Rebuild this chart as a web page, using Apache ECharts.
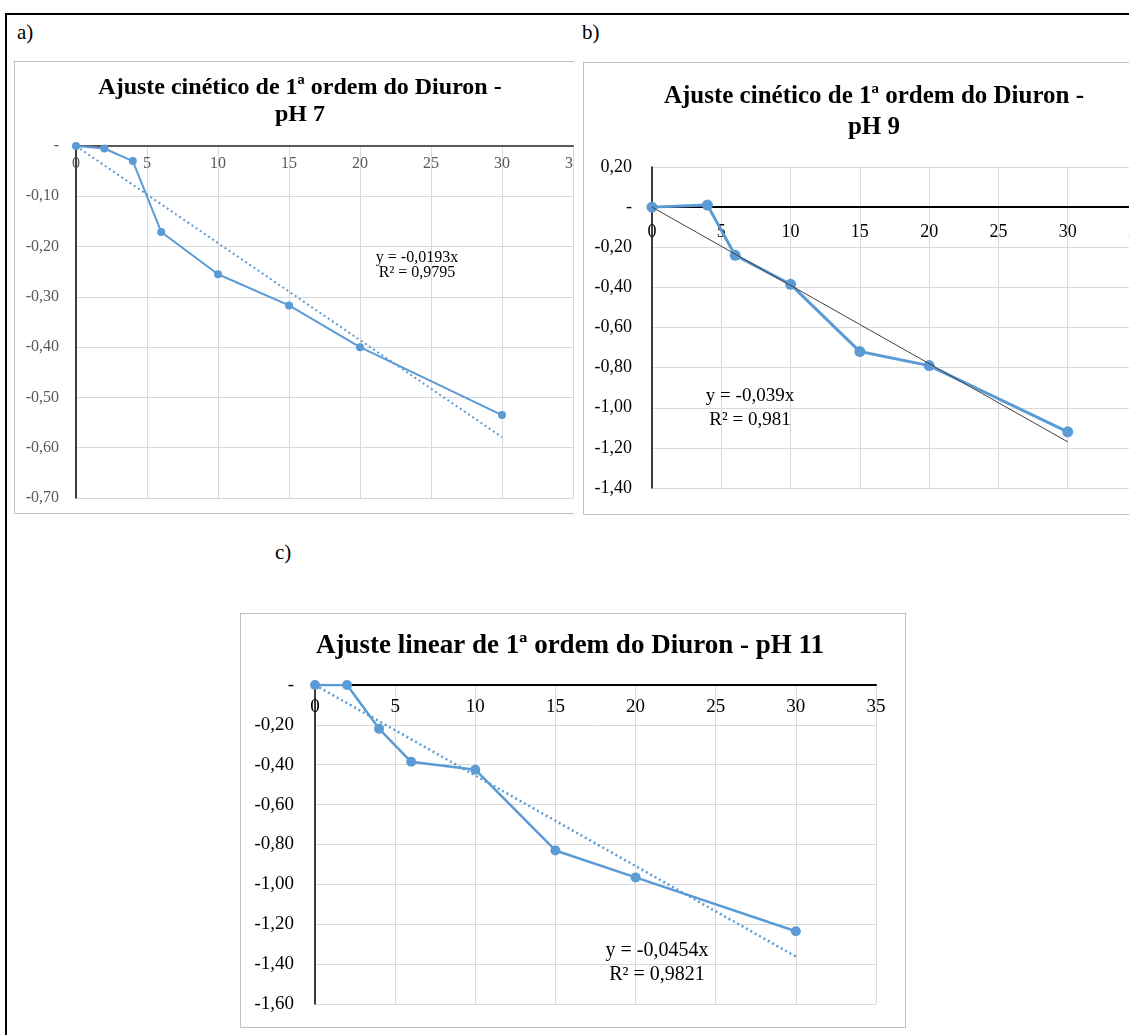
<!DOCTYPE html>
<html><head><meta charset="utf-8">
<script src="https://cdn.jsdelivr.net/npm/echarts@6/dist/echarts.min.js"></script>
<style>
html,body{margin:0;padding:0;width:1129px;height:1035px;overflow:hidden;background:#fff;font-family:"Liberation Serif",serif;}
#frame{position:absolute;left:5px;top:13px;width:1200px;height:1100px;border-left:2px solid #000;border-top:2px solid #000;}
.lbl{position:absolute;font-size:21px;color:#000;line-height:21px;}
.panel{position:absolute;border:1px solid #bfbfbf;overflow:hidden;background:#fff;box-sizing:border-box;}
.chart{position:absolute;left:0;top:0;}
</style></head>
<body>
<div id="frame"></div>
<div class="lbl" style="left:17px;top:22px;">a)</div>
<div class="lbl" style="left:582px;top:22px;">b)</div>
<div class="lbl" style="left:275px;top:542px;">c)</div>
<div class="panel" style="left:14px;top:61px;width:560px;height:453px;border-right:none;"><div id="ca" class="chart" style="width:590px;height:451px;"></div></div>
<div class="panel" style="left:583px;top:62px;width:600px;height:453px;border-right:none;"><div id="cb" class="chart" style="width:580px;height:451px;"></div></div>
<div class="panel" style="left:240px;top:613px;width:666px;height:415px;"><div id="cc" class="chart" style="width:664px;height:413px;"></div></div>
<script>
// ---------- data ----------
const timeA = [0, 2, 4, 6, 10, 15, 20, 30];
const lnA   = [0, -0.005, -0.03, -0.171, -0.255, -0.317, -0.40, -0.535];
const trendA = [[0, 0], [30, -0.579]];
const eqA = ["y = -0,0193x", "R² = 0,9795"];
const titleA = ["Ajuste cinético de 1ª ordem do Diuron -", "pH 7"];

const timeB = [0, 4, 6, 10, 15, 20, 30];
const lnB   = [0, 0.01, -0.24, -0.385, -0.72, -0.79, -1.12];
const trendB = [[0, 0], [30, -1.17]];
const eqB = ["y = -0,039x", "R² = 0,981"];
const titleB = ["Ajuste cinético de 1ª ordem do Diuron -", "pH 9"];

const timeC = [0, 2, 4, 6, 10, 15, 20, 30];
const lnC   = [0, 0, -0.22, -0.385, -0.425, -0.83, -0.965, -1.235];
const trendC = [[0, 0], [30, -1.362]];
const eqC = ["y = -0,0454x", "R² = 0,9821"];
const titleC = ["Ajuste linear de 1ª ordem do Diuron - pH 11"];

const xTicks = {min: 0, max: 35, interval: 5};

const blue = '#5B9BD5';
const FONT = 'Liberation Serif';

function yFmt(v){ return Math.abs(v) < 1e-9 ? '-' : v.toFixed(2).replace('.', ','); }

function build(el, cfg){
  const chart = echarts.init(document.getElementById(el), null, {renderer:'canvas'});
  const graphics = [];
  cfg.titles.forEach((t, i) => graphics.push({type:'text', x:cfg.titleX, y:cfg.titleY[i],
    style:{text:t, font:'bold '+cfg.titleSize+'px "'+FONT+'"', fill:'#000', align:'center', verticalAlign:'middle'}}));
  cfg.eq.forEach((t, i) => graphics.push({type:'text', x:cfg.eqX, y:cfg.eqY[i],
    style:{text:t, font:cfg.eqSize+'px "'+FONT+'"', fill:'#000', align:'center', verticalAlign:'middle'}, z:10}));
  const g = cfg.grid;
  chart.setOption({
    animation:false,
    grid:[
      {left:g[0], top:g[1], width:g[2], height:g[3], containLabel:false, outerBoundsMode:'none'},
      {left:g[0], top:g[1], width:g[2], height:1, containLabel:false, outerBoundsMode:'none'}
    ],
    xAxis:[
      {type:'value', gridIndex:0, min:xTicks.min, max:xTicks.max, interval:xTicks.interval,
       axisLine:{onZero:true, lineStyle:{color:cfg.xAxisColor, width:2}},
       axisTick:{show:false}, axisLabel:{show:false},
       splitLine:{show:true, lineStyle:{color:'#d9d9d9', width:1}}},
      {type:'value', gridIndex:1, position:'bottom', min:xTicks.min, max:xTicks.max, interval:xTicks.interval,
       axisLine:{show:false}, axisTick:{show:false}, splitLine:{show:false},
       axisLabel:{fontFamily:FONT, fontSize:cfg.labelSize, color:cfg.labelColor, margin:cfg.xMargin}}
    ],
    yAxis:[
      {type:'value', gridIndex:0, min:cfg.yMin, max:cfg.yMax, interval:cfg.yInt,
       axisLine:{show:true, onZero:false, lineStyle:{color:'#000', width:1.5}},
       axisTick:{show:false},
       axisLabel:{fontFamily:FONT, fontSize:cfg.labelSize, color:cfg.labelColor, margin:cfg.yMargin, formatter:yFmt},
       splitLine:{show:true, lineStyle:{color:'#d9d9d9', width:1}}},
      {type:'value', gridIndex:1, show:false, min:0, max:1}
    ],
    graphic:graphics,
    series:[
      {type:'line', xAxisIndex:0, yAxisIndex:0, data:cfg.x.map((v,i)=>[v, cfg.y[i]]), symbol:'circle', symbolSize:cfg.sym,
       itemStyle:{color:blue}, lineStyle:{color:blue, width:cfg.lw}, z:3},
      {type:'line', xAxisIndex:0, yAxisIndex:0, data:cfg.trend, symbol:'none',
       lineStyle:cfg.trendStyle, z:4}
    ]
  });
  // place the label axis so its bottom edge sits on the y = 0 line of the main grid
  const zeroPx = chart.convertToPixel({yAxisIndex:0}, 0);
  chart.setOption({grid:[{}, {top: zeroPx - 1, height: 1}]});
}

build('ca', {x:timeA, y:lnA, trend:trendA, eq:eqA, titles:titleA,
  titleX:285, titleY:[26,53], titleSize:24, eqX:402, eqY:[196,211], eqSize:16,
  grid:[61,84,497,352], yMin:-0.7, yMax:0, yInt:0.1, labelSize:16, labelColor:'#595959',
  xMargin:10, yMargin:17, xAxisColor:'#595959', sym:8, lw:2,
  trendStyle:{color:blue, width:2, type:[2,3]}});

build('cb', {x:timeB, y:lnB, trend:trendB, eq:eqB, titles:titleB,
  titleX:290, titleY:[34,65], titleSize:25, eqX:166, eqY:[333,357], eqSize:19,
  grid:[68,104,485,321], yMin:-1.4, yMax:0.2, yInt:0.2, labelSize:18, labelColor:'#000',
  xMargin:16, yMargin:20, xAxisColor:'#000', sym:11, lw:3,
  trendStyle:{color:'#404040', width:1, type:'solid'}});

build('cc', {x:timeC, y:lnC, trend:trendC, eq:eqC, titles:titleC,
  titleX:329, titleY:[32], titleSize:27, eqX:416, eqY:[337,361], eqSize:20,
  grid:[74,71,561,319], yMin:-1.6, yMax:0, yInt:0.2, labelSize:19, labelColor:'#000',
  xMargin:13, yMargin:21, xAxisColor:'#000', sym:10, lw:2.5,
  trendStyle:{color:blue, width:2.5, type:[2,3]}});
</script>
</body></html>
